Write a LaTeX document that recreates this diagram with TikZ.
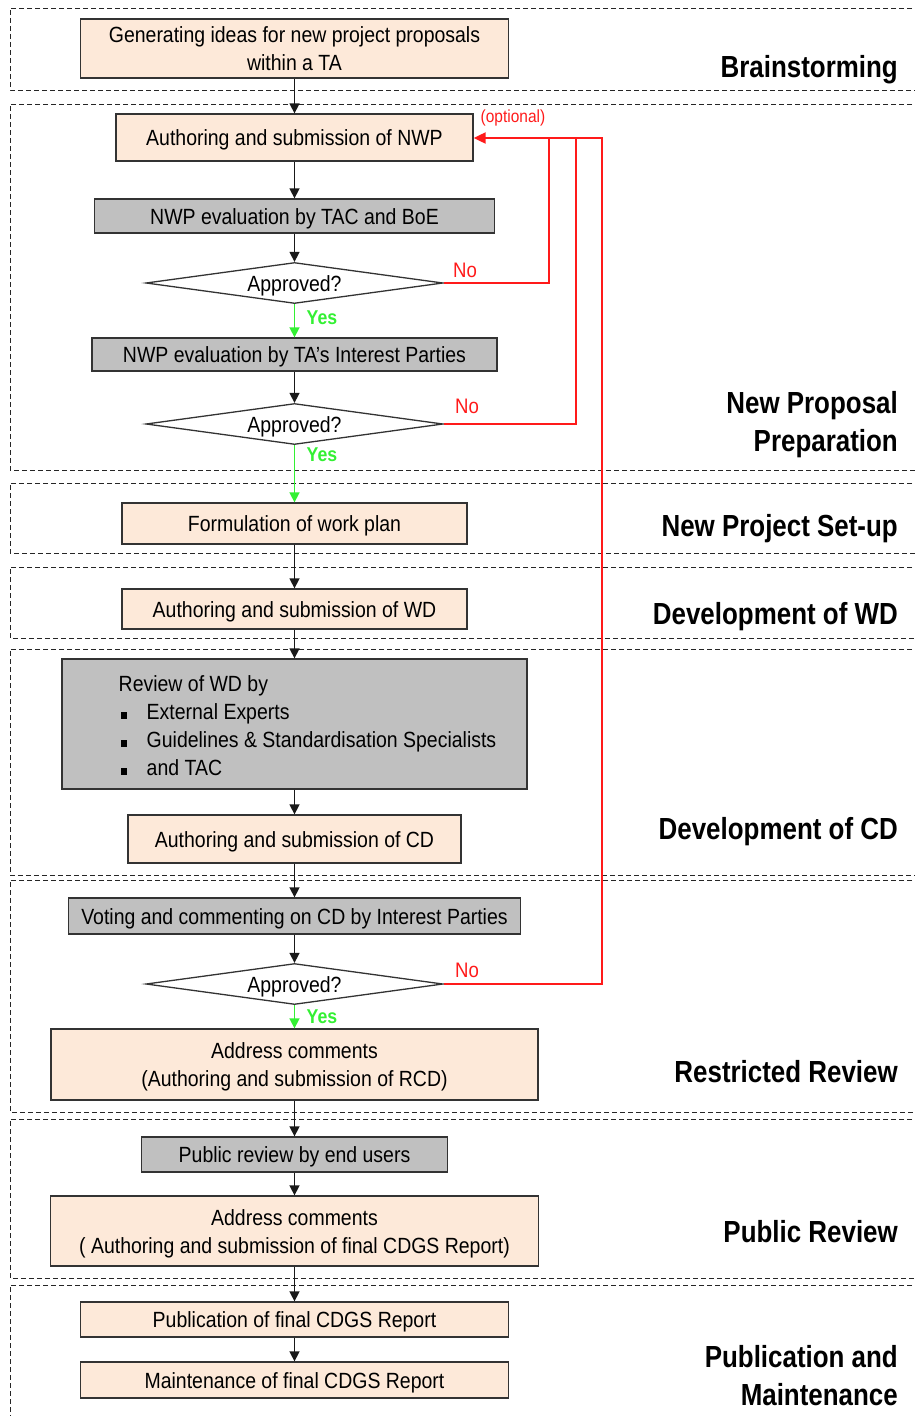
\documentclass[tikz,border=0pt]{standalone}
\usepackage{fontspec}
\setmainfont{Liberation Sans}
\newfontfamily\bodyfont[FakeStretch=0.885]{Liberation Sans}
\newfontfamily\labfont[FakeStretch=0.85]{Liberation Sans}
\usetikzlibrary{shapes.geometric,arrows.meta}
\definecolor{peach}{HTML}{FDE9D9}
\definecolor{boxgray}{HTML}{C0C0C0}
\definecolor{edge}{HTML}{333333}
\definecolor{yesgreen}{HTML}{33F033}
\definecolor{nored}{HTML}{FF1A1A}
\newcommand{\bul}{\hspace*{2pt}\makebox[26pt][l]{\rule[1pt]{6.5pt}{6.5pt}}}
\begin{document}
\begin{tikzpicture}[x=1pt,y=-1pt,
  box/.style={draw=edge, line width=1.3pt, inner sep=0pt, align=center, font=\bodyfont\fontsize{22}{28}\selectfont},
  one/.style={text height=16.8pt, text depth=0pt},
  pbox/.style={box, fill=peach},
  gbox/.style={box, fill=boxgray},
  dec/.style={box, one, fill=white, shape=diamond, aspect=7.2, minimum width=297pt, minimum height=41pt},
  sect/.style={draw=black!85, line width=1pt, dash pattern=on 5pt off 3pt},
  phase/.style={anchor=east, align=right, inner sep=0pt, font=\labfont\bfseries\fontsize{30.5}{38}\selectfont},
  flow/.style={draw=black!90, line width=1.5pt, -{Triangle[length=10pt,width=10pt]}},
  yesflow/.style={draw=yesgreen, line width=1.6pt, -{Triangle[length=10pt,width=10pt]}},
  noline/.style={draw=nored, line width=2pt},
  yeslab/.style={text=yesgreen, inner sep=0pt, font=\bodyfont\bfseries\fontsize{20}{24}\selectfont},
  nolab/.style={text=nored, inner sep=0pt, font=\bodyfont\fontsize{21}{24}\selectfont},
]
\useasboundingbox (0,0) rectangle (914,1416);

% section frames (open to the right)
\draw[sect] (920,8) -- (10,8) -- (10,90) -- (920,90);
\draw[sect] (920,104) -- (10,104) -- (10,470) -- (920,470);
\draw[sect] (920,483) -- (10,483) -- (10,553) -- (920,553);
\draw[sect] (920,567) -- (10,567) -- (10,638) -- (920,638);
\draw[sect] (920,649) -- (10,649) -- (10,875) -- (920,875);
\draw[sect] (920,880) -- (10,880) -- (10,1112) -- (920,1112);
\draw[sect] (920,1119) -- (10,1119) -- (10,1278) -- (920,1278);
\draw[sect] (920,1285) -- (10,1285) -- (10,1425);

% phase labels
\node[phase] (p1) at (898,70) {Brainstorming};
\node[phase] (p2) at (898,425) {New Proposal\\Preparation};
\node[phase] (p3) at (898,529) {New Project Set-up};
\node[phase] (p4) at (898,617) {Development of WD};
\node[phase] (p5) at (898,832) {Development of CD};
\node[phase] (p6) at (898,1072) {Restricted Review};
\node[phase] (p7) at (898,1232) {Public Review};
\node[phase] (p8) at (898,1376) {Publication and\\Maintenance};

% boxes
\node[pbox, minimum width=428pt, minimum height=59pt] (gen) at (294.5,48.5) {Generating ideas for new project proposals\\within a TA};
\node[pbox, one, minimum width=357pt, minimum height=47pt] (nwp) at (294.5,137.5) {Authoring and submission of NWP};
\node[gbox, one, minimum width=400pt, minimum height=34pt] (ev1) at (294.5,216) {NWP evaluation by TAC and BoE};
\node[dec] (d1) at (294.5,283) {Approved?};
\node[gbox, one, minimum width=405pt, minimum height=33pt] (ev2) at (294.5,354.5) {NWP evaluation by TA’s Interest Parties};
\node[dec] (d2) at (294.5,424) {Approved?};
\node[pbox, one, minimum width=345pt, minimum height=41pt] (form) at (294.5,523.5) {Formulation of work plan};
\node[pbox, one, minimum width=345pt, minimum height=40pt] (wd) at (294.5,609) {Authoring and submission of WD};
\node[gbox, minimum width=465pt, minimum height=130pt] (rev) at (294.5,724)
  {\hspace*{26pt}\raisebox{-4pt}[\height][\depth]{\begin{tabular}{@{}l@{}}Review of WD by\\\bul External Experts\\\bul Guidelines \& Standardisation Specialists\\\bul and TAC\end{tabular}}};
\node[pbox, one, minimum width=333pt, minimum height=48pt] (cd) at (294.5,839) {Authoring and submission of CD};
\node[gbox, one, minimum width=452pt, minimum height=36pt] (vote) at (294.5,916) {Voting and commenting on CD by Interest Parties};
\node[dec] (d3) at (294.5,984) {Approved?};
\node[pbox, minimum width=487pt, minimum height=71pt] (rcd) at (294.5,1064.5) {\raisebox{-2pt}[\height][\depth]{\begin{tabular}{@{}c@{}}Address comments\\(Authoring and submission of RCD)\end{tabular}}};
\node[gbox, one, minimum width=306pt, minimum height=35pt] (pub) at (294.5,1154.5) {Public review by end users};
\node[pbox, minimum width=488pt, minimum height=70pt] (fin) at (294.5,1231) {\raisebox{-2.5pt}[\height][\depth]{\begin{tabular}{@{}c@{}}Address comments\\( Authoring and submission of final CDGS Report)\end{tabular}}};
\node[pbox, one, minimum width=428pt, minimum height=35pt] (publ) at (294.5,1319.5) {Publication of final CDGS Report};
\node[pbox, one, minimum width=428pt, minimum height=36pt] (maint) at (294.5,1380) {Maintenance of final CDGS Report};

% main flow
\draw[flow] (gen.south) -- (nwp.north);
\draw[flow] (nwp.south) -- (ev1.north);
\draw[flow] (ev1.south) -- (d1.north);
\draw[yesflow] (d1.south) -- (ev2.north);
\draw[flow] (ev2.south) -- (d2.north);
\draw[yesflow] (d2.south) -- (form.north);
\draw[flow] (form.south) -- (wd.north);
\draw[flow] (wd.south) -- (rev.north);
\draw[flow] (rev.south) -- (cd.north);
\draw[flow] (cd.south) -- (vote.north);
\draw[flow] (vote.south) -- (d3.north);
\draw[yesflow] (d3.south) -- (rcd.north);
\draw[flow] (rcd.south) -- (pub.north);
\draw[flow] (pub.south) -- (fin.north);
\draw[flow] (fin.south) -- (publ.north);
\draw[flow] (publ.south) -- (maint.north);

% "No" loops back
\coordinate (j1) at (549,138);
\coordinate (j2) at (576,138);
\coordinate (j3) at (602,138);
\draw[noline] (d1.east) -| (j1);
\draw[noline] (d2.east) -| (j2);
\draw[noline, -{Triangle[length=12pt,width=11pt]}] (d3.east) -| (j3) -- (nwp.east |- j3);

% labels
\node[nolab] (no1) at (465,270) {No};
\node[nolab] (no2) at (467,406) {No};
\node[nolab] (no3) at (467,970) {No};
\node[yeslab] (y1) at (322,318) {Yes};
\node[yeslab] (y2) at (322,455) {Yes};
\node[yeslab] (y3) at (322,1017) {Yes};
\node[text=nored, inner sep=0pt, font=\bodyfont\fontsize{17.5}{20}\selectfont] (opt) at (513,118) {(optional)};
\end{tikzpicture}
\end{document}
